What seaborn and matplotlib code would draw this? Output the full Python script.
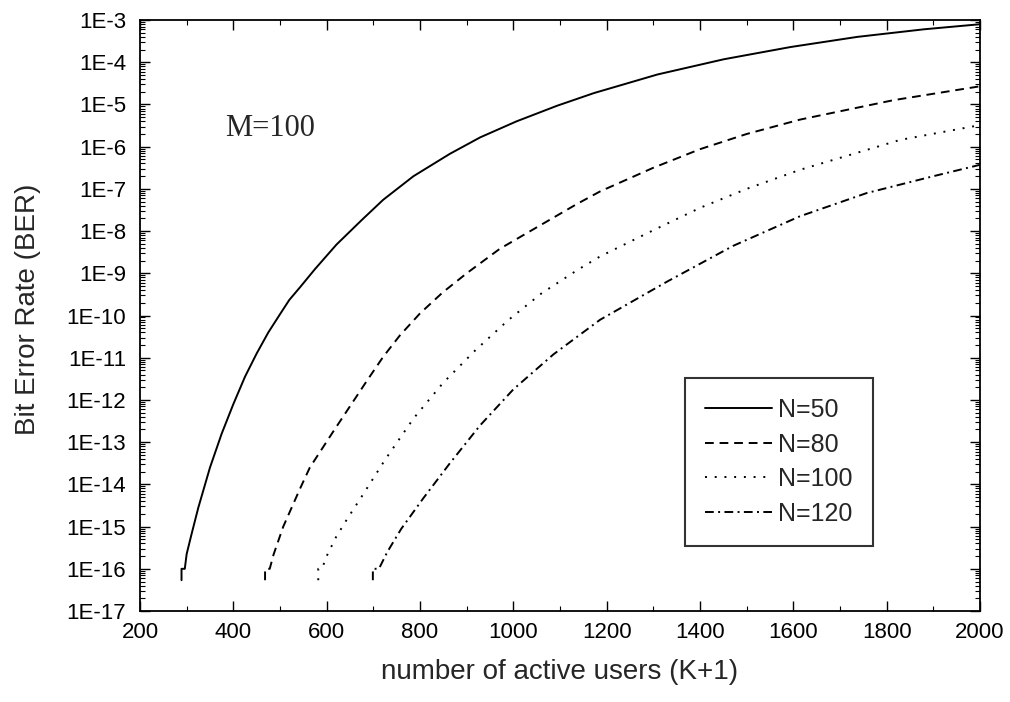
import numpy as np
import pandas as pd
import matplotlib
matplotlib.use("Agg")
import matplotlib.pyplot as plt
import seaborn as sns
from matplotlib.ticker import MultipleLocator, LogLocator, FuncFormatter, NullFormatter

# values: x = number of active users, y = log10(BER)
users_n50 = [289, 289, 296, 300, 310, 325, 350, 375, 400, 425, 450, 475, 500, 520, 543,
             575, 621, 675, 721, 786, 864, 929, 1007, 1094, 1173, 1309, 1451, 1594, 1737,
             1880, 2000]
logber_n50 = [-16.27, -16.0, -16.0, -15.65, -15.2, -14.55, -13.6, -12.8, -12.1, -11.45,
              -10.9, -10.4, -9.97, -9.63, -9.33, -8.9, -8.32, -7.74, -7.26, -6.70, -6.17,
              -5.78, -5.40, -5.03, -4.73, -4.29, -3.93, -3.64, -3.40, -3.22, -3.10]

users_n80 = [468, 468, 478, 486, 507, 543, 564, 614, 650, 686, 721, 757, 800, 849, 900,
             971, 1136, 1186, 1300, 1400, 1500, 1614, 1814, 2000]
logber_n80 = [-16.27, -16.0, -16.0, -15.67, -15.0, -14.1, -13.6, -12.75, -12.15, -11.55,
              -10.98, -10.47, -9.95, -9.45, -9.0, -8.42, -7.36, -7.06, -6.5, -6.06, -5.7,
              -5.36, -4.9, -4.57]

users_n100 = [582, 582, 590, 600, 620, 645, 675, 725, 786, 850, 918, 989, 1061, 1139,
              1186, 1300, 1400, 1500, 1614, 1829, 2000]
logber_n100 = [-16.27, -16.0, -16.0, -15.7, -15.25, -14.8, -14.29, -13.42, -12.44, -11.59,
               -10.83, -10.11, -9.47, -8.91, -8.6, -7.98, -7.45, -7.0, -6.55, -5.84, -5.49]

users_n120 = [699, 699, 712, 730, 760, 807, 864, 929, 1000, 1086, 1186, 1329, 1471, 1614,
              1757, 1900, 2000]
logber_n120 = [-16.27, -16.0, -16.0, -15.6, -15.05, -14.33, -13.5, -12.6, -11.75, -10.92,
               -10.1, -9.2, -8.35, -7.65, -7.1, -6.7, -6.43]

series = [
    ("N=50", users_n50, logber_n50, "-"),
    ("N=80", users_n80, logber_n80, (0, (4.5, 3))),
    ("N=100", users_n100, logber_n100, (0, (1, 4))),
    ("N=120", users_n120, logber_n120, (0, (4.5, 2.25, 1, 2.25))),
]

sns.set_theme(style="ticks")
plt.rcParams['font.family'] = ['Liberation Sans', 'DejaVu Sans']

fig = plt.figure(figsize=(10.1, 7.02), dpi=100)
ax = fig.add_axes([0.1386, 0.1296, 0.8317, 0.8419])

for name, xs, ys, ls in series:
    df = pd.DataFrame({"users": xs, "ber": 10.0 ** np.array(ys)})
    sns.lineplot(data=df, x="users", y="ber", ax=ax, color="black", linestyle=ls,
                 linewidth=1.4, estimator=None, sort=False, label=name)

ax.set_yscale("log")
ax.set_xlim(200, 2000)
ax.set_ylim(1e-17, 1e-3)

ax.xaxis.set_major_locator(MultipleLocator(200))
ax.xaxis.set_minor_locator(MultipleLocator(100))
ax.yaxis.set_major_locator(LogLocator(base=10, numticks=20))
ax.yaxis.set_minor_locator(LogLocator(base=10, subs=np.arange(2, 10), numticks=200))
ax.yaxis.set_major_formatter(FuncFormatter(lambda v, p: "1E%d" % round(np.log10(v))))
ax.yaxis.set_minor_formatter(NullFormatter())

ax.tick_params(which="both", direction="in", top=True, right=True, colors="black",
               labelsize=16)
ax.tick_params(axis="x", which="major", pad=8)
ax.tick_params(axis="y", which="major", pad=10)
ax.tick_params(which="major", length=7, width=1)
ax.tick_params(which="minor", length=3.5, width=0.8)
for s in ax.spines.values():
    s.set_linewidth(1.3)
    s.set_color("black")

ax.set_xlabel("number of active users (K+1)", fontsize=20, va="center")
ax.set_ylabel("Bit Error Rate (BER)", fontsize=20, va="center")
ax.xaxis.set_label_coords(0.5, -0.103)
ax.yaxis.set_label_coords(-0.133, 0.51)

ax.text(382, 10 ** -5.56, "M=100", fontsize=22, family="Liberation Serif", va="center")

leg = ax.legend(loc="upper left", bbox_to_anchor=(0.649, 0.394), borderaxespad=0,
                fontsize=18, frameon=True, fancybox=False, borderpad=0.8,
                handlelength=2.68, handletextpad=0.25, labelspacing=0.42)
leg.get_frame().set_edgecolor("black")
leg.get_frame().set_linewidth(1.5)

fig.savefig("out.png", dpi=100)
